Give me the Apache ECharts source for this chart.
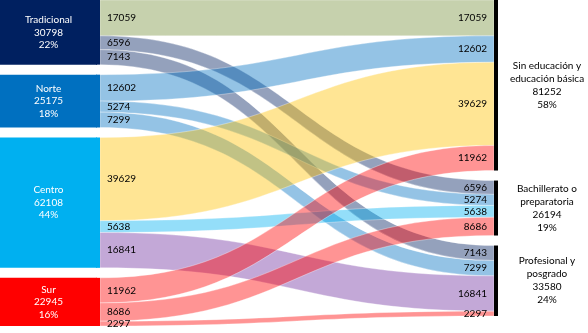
<!DOCTYPE html>
<html>
<head>
<meta charset="utf-8">
<script src="https://cdn.jsdelivr.net/npm/echarts@6/dist/echarts.min.js"></script>
<style>
  html, body { margin: 0; padding: 0; background: #fff; }
  #chart { width: 588px; height: 333px; }
</style>
</head>
<body>
<div id="chart"></div>
<script>
// regiones (columna izquierda) y niveles educativos (columna derecha)
var regiones = ['Tradicional', 'Norte', 'Centro', 'Sur'];
var niveles = ['Sin educación y educación básica', 'Bachillerato o preparatoria', 'Profesional y posgrado'];
var nivelesEtiqueta = ['Sin educación y\neducación básica', 'Bachillerato o\npreparatoria', 'Profesional y\nposgrado'];

// flujos de cada nivel, en el mismo orden que regiones
var sinEducacion = [17059, 12602, 39629, 11962];
var bachillerato = [6596, 5274, 5638, 8686];
var profesional = [7143, 7299, 16841, 2297];

var flujos = [sinEducacion, bachillerato, profesional];

// estilos
var coloresRegion = ['#002060', '#0070C0', '#00B0F0', '#FF0000'];
var coloresFlujo = [
    ['#76923C', '#002060', '#002060'],
    ['#0070C0', '#0070C0', '#0070C0'],
    ['#FFC000', '#00B0F0', '#7030A0'],
    ['#FF0000', '#FF0000', '#FF0000']
];
var FUENTE = 'Lato, "Noto Sans", sans-serif';

var suma = function (arr) { return arr.reduce(function (s, v) { return s + v; }, 0); };
var totalRegion = regiones.map(function (r, i) {
    return suma(flujos.map(function (f) { return f[i]; }));
});
var totalNivel = flujos.map(suma);
var granTotal = suma(totalNivel);
var pct = function (v) { return Math.round(v / granTotal * 100) + '%'; };

var links = [];
regiones.forEach(function (r, i) {
    niveles.forEach(function (n, j) {
        links.push({
            source: r,
            target: n,
            value: flujos[j][i],
            lineStyle: { color: coloresFlujo[i][j], opacity: 0.42 }
        });
    });
});

// cajas grandes de la izquierda (misma disposicion vertical, nodos anchos)
var nodosCaja = regiones.map(function (r, i) {
    return {
        name: r,
        itemStyle: { color: coloresRegion[i] },
        label: {
            show: true,
            position: 'inside',
            color: '#fff',
            fontFamily: FUENTE,
            fontSize: 10,
            lineHeight: 12.5,
            align: 'center',
            formatter: r + '\n' + totalRegion[i] + '\n' + pct(totalRegion[i])
        }
    };
}).concat(niveles.map(function (n) {
    return { name: n, itemStyle: { color: 'rgba(0,0,0,0)' }, label: { show: false } };
}));

// nodos delgados del diagrama de flujos
var nodosFlujo = regiones.map(function (r, i) {
    return { name: r, itemStyle: { color: coloresRegion[i] }, label: { show: false } };
}).concat(niveles.map(function (n, j) {
    return {
        name: n,
        itemStyle: { color: '#000' },
        label: {
            show: true,
            position: 'right',
            distance: 49,
            align: 'center',
            color: '#000',
            fontFamily: FUENTE,
            fontSize: 10,
            lineHeight: 13,
            formatter: nivelesEtiqueta[j] + '\n' + totalNivel[j] + '\n' + pct(totalNivel[j])
        }
    };
}));

var chart = echarts.init(document.getElementById('chart'));

var option = {
    animation: false,
    series: [
        {
            type: 'sankey',
            left: 0, top: 0, right: 90, bottom: 7,
            nodeWidth: 97,
            nodeGap: 10,
            layoutIterations: 0,
            silent: true,
            z: 1,
            itemStyle: { borderWidth: 0 },
            lineStyle: { opacity: 0 },
            emphasis: { disabled: true },
            data: nodosCaja,
            links: links.map(function (l) {
                return { source: l.source, target: l.target, value: l.value, lineStyle: { opacity: 0 } };
            })
        },
        {
            type: 'sankey',
            left: 96, top: 0, right: 90, bottom: 7,
            nodeWidth: 4,
            nodeGap: 10,
            layoutIterations: 0,
            z: 2,
            itemStyle: { borderWidth: 0 },
            lineStyle: { curveness: 0.5, borderColor: '#fff', borderWidth: 0.8 },
            emphasis: { disabled: true },
            data: nodosFlujo,
            links: links
        }
    ]
};
chart.setOption(option);

// etiquetas de valor en ambos extremos de cada flujo, tomadas del layout del sankey
var modelo = chart.getModel().getSeriesByIndex(1);
var caja = modelo.layoutInfo;
var textos = [];
modelo.getGraph().edges.forEach(function (e) {
    var l = e.getLayout(), n1 = e.node1.getLayout(), n2 = e.node2.getLayout();
    var txt = String(e.getValue());
    var base = { fill: '#000', fontFamily: FUENTE, fontSize: 10, text: txt,
                 verticalAlign: 'middle', textVerticalAlign: 'middle' };
    textos.push({
        type: 'text', z: 100, silent: true,
        x: caja.x + n1.x + n1.dx + 7,
        y: caja.y + n1.y + l.sy + l.dy / 2,
        style: echarts.util.extend({ align: 'left', textAlign: 'left' }, base)
    });
    textos.push({
        type: 'text', z: 100, silent: true,
        x: caja.x + n2.x - 7,
        y: caja.y + n2.y + l.ty + l.dy / 2,
        style: echarts.util.extend({ align: 'right', textAlign: 'right' }, base)
    });
});
chart.setOption({ graphic: textos });
</script>
</body>
</html>
